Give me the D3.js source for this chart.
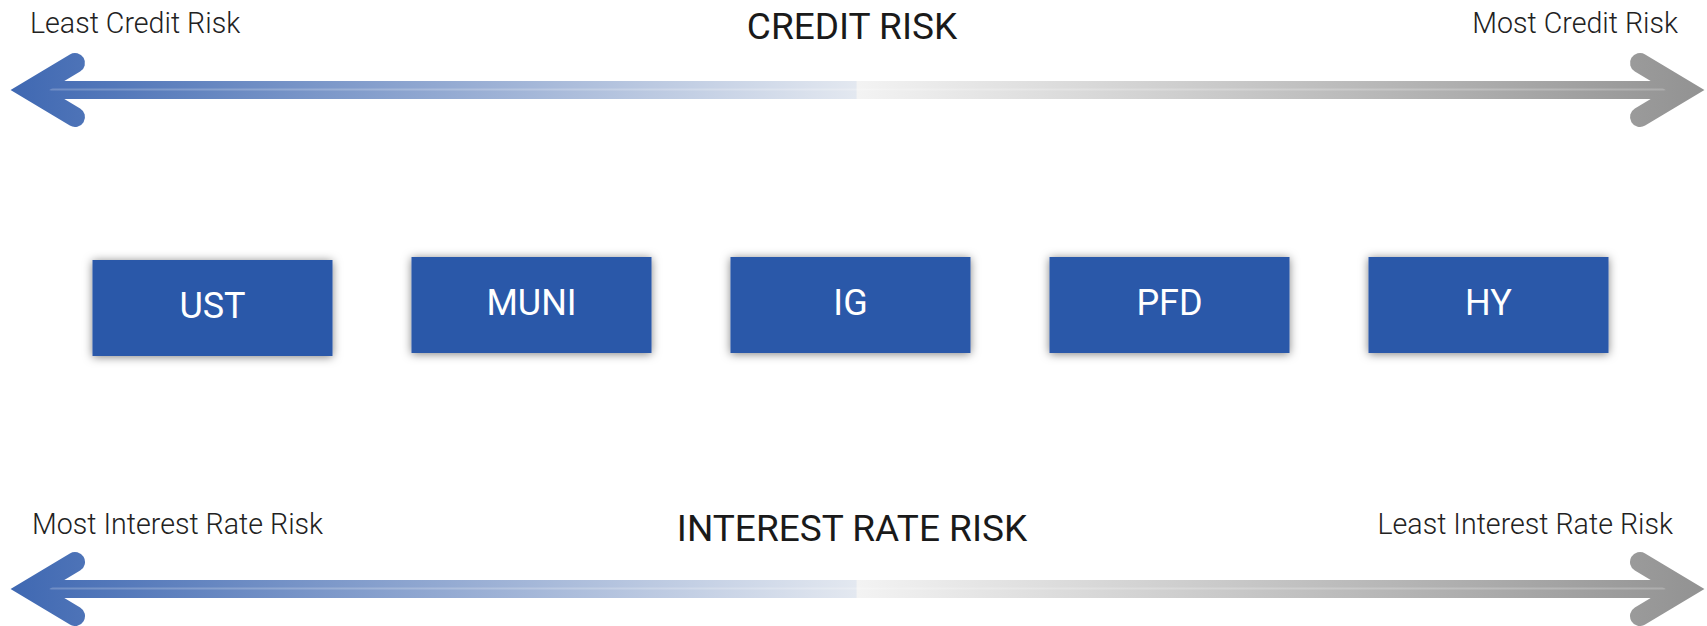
<!DOCTYPE html>
<html>
<head>
<meta charset="utf-8">
<script src="https://cdn.jsdelivr.net/npm/d3@7"></script>
<style>
  html, body { margin: 0; padding: 0; background: #fff; }
  svg { display: block; font-family: Roboto, "Noto Sans", sans-serif; }
</style>
</head>
<body>
<div id="chart"></div>
<script>
// sectors, ordered from least to most credit risk
var sectors = ["UST", "MUNI", "IG", "PFD", "HY"];

// the two scales: title, left end label, right end label
var scaleTitles = ["CREDIT RISK", "INTEREST RATE RISK"];
var leftLabels = ["Least Credit Risk", "Most Interest Rate Risk"];
var rightLabels = ["Most Credit Risk", "Least Interest Rate Risk"];

var width = 1707, height = 626;

var svg = d3.select("#chart")
	.append("svg")
	.attr("width", width)
	.attr("height", height);

var defs = svg.append("defs");

// blue -> pale on the left half, light grey -> grey on the right half
var grad = defs.append("linearGradient")
	.attr("id", "arrowGrad")
	.attr("gradientUnits", "userSpaceOnUse")
	.attr("x1", 10).attr("x2", 1705)
	.attr("y1", 0).attr("y2", 0);
grad.append("stop").attr("offset", "0%").attr("stop-color", "#3f68b2");
grad.append("stop").attr("offset", "49.9%").attr("stop-color", "#e3e8f0");
grad.append("stop").attr("offset", "50%").attr("stop-color", "#f3f3f3");
grad.append("stop").attr("offset", "100%").attr("stop-color", "#929292");

var shadow = defs.append("filter")
	.attr("id", "shadow")
	.attr("x", "-20%").attr("y", "-30%")
	.attr("width", "140%").attr("height", "160%");
shadow.append("feDropShadow")
	.attr("dx", 0).attr("dy", 1)
	.attr("stdDeviation", 5)
	.attr("flood-color", "#000")
	.attr("flood-opacity", 0.5);

// horizontal scale for the arrows (0 = left tip, 1 = right tip)
var xRisk = d3.scaleLinear().domain([0, 1]).range([11, 1704]);
// vertical placement of the two arrows
var yArrow = d3.scalePoint().domain(scaleTitles).range([90, 589]);

var headW = 20;      // stroke width of arrow heads
var headInset = 19;  // vertex offset from tip
var headLen = 45;    // arm length in x
var headRise = 27;   // arm rise in y
var shaftH = 18;

scaleTitles.forEach(function(t, i) {
	var cy = yArrow(t);
	var x0 = xRisk(0), x1 = xRisk(1);
	var g = svg.append("g").attr("class", "arrow");

	g.append("rect")
		.attr("x", x0 + headInset)
		.attr("y", cy - shaftH / 2)
		.attr("width", (x1 - headInset) - (x0 + headInset))
		.attr("height", shaftH)
		.attr("fill", "url(#arrowGrad)");

	// thin light streak along the shaft
	g.append("line")
		.attr("x1", x0 + headInset + 10).attr("x2", x1 - headInset - 10)
		.attr("y1", cy - 0.5).attr("y2", cy - 0.5)
		.attr("stroke", "#fff")
		.attr("stroke-opacity", 0.22)
		.attr("stroke-width", 2);

	var lv = x0 + headInset, rv = x1 - headInset;
	var heads = [
		[[lv + headLen, cy - headRise], [lv, cy], [lv + headLen, cy + headRise]],
		[[rv - headLen, cy - headRise], [rv, cy], [rv - headLen, cy + headRise]]
	];
	g.selectAll("path.head")
		.data(heads)
		.enter().append("path")
		.attr("class", "head")
		.attr("d", d3.line())
		.attr("fill", "none")
		.attr("stroke", "url(#arrowGrad)")
		.attr("stroke-width", headW)
		.attr("stroke-linejoin", "miter")
		.attr("stroke-miterlimit", 10)
		.attr("stroke-linecap", "round");

	var labelY = i === 0 ? 33 : 534;
	var titleY = i === 0 ? 39 : 541;

	svg.append("text")
		.attr("x", 30 + i * 2)
		.attr("y", labelY)
		.attr("font-size", 28.6)
		.attr("font-weight", 300)
		.attr("fill", "#222")
		.text(leftLabels[i]);

	svg.append("text")
		.attr("x", 1678 - i * 5)
		.attr("y", labelY)
		.attr("text-anchor", "end")
		.attr("font-size", 28.6)
		.attr("font-weight", 300)
		.attr("fill", "#222")
		.text(rightLabels[i]);

	svg.append("text")
		.attr("x", 852)
		.attr("y", titleY)
		.attr("text-anchor", "middle")
		.attr("font-size", 37)
		.attr("fill", "#1a1a1a")
		.text(t);
});

// sector boxes
var xBox = d3.scaleBand()
	.domain(sectors)
	.range([92.5, 1608.5])
	.paddingInner(79 / 319)
	.paddingOuter(0);

var boxTop = 257, boxH = 96;

var box = svg.selectAll(".box")
	.data(sectors)
	.enter().append("g")
	.attr("class", "box")
	.attr("transform", function(d) {
		return "translate(" + xBox(d) + "," + (boxTop + (d === "UST" ? 3 : 0)) + ")";
	});

box.append("rect")
	.attr("width", xBox.bandwidth())
	.attr("height", boxH)
	.attr("fill", "#2959a9")
	.attr("filter", "url(#shadow)");

box.append("text")
	.attr("x", xBox.bandwidth() / 2)
	.attr("y", boxH / 2 + 10)
	.attr("text-anchor", "middle")
	.attr("font-size", 36)
	.attr("fill", "#fff")
	.text(function(d) { return d; });
</script>
</body>
</html>
